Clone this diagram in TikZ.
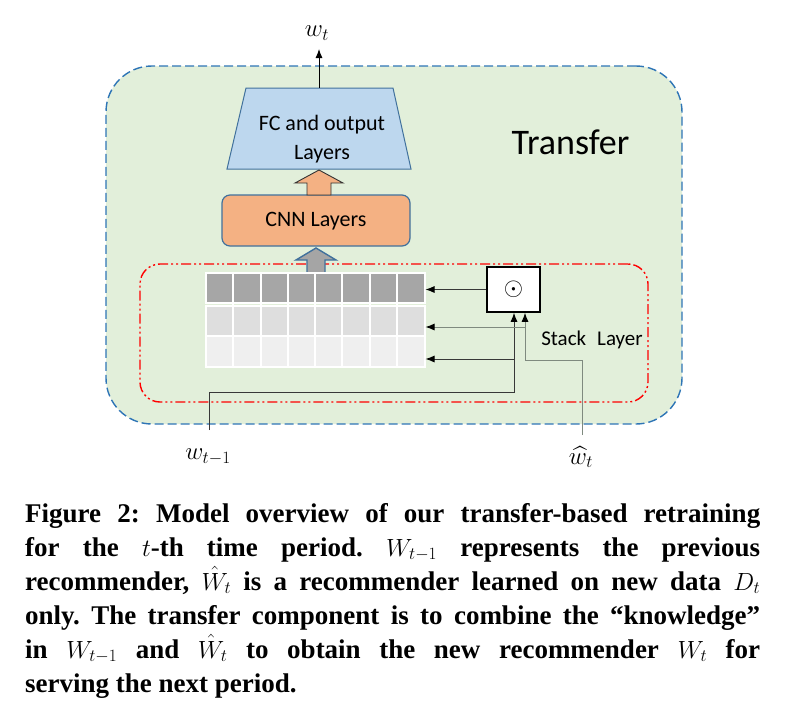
\documentclass[tikz,border=0pt]{standalone}
\usepackage{amsmath}
\usepackage{fontspec}
\usetikzlibrary{arrows.meta}
\setsansfont{Carlito}
\newfontfamily\capfont{Liberation Serif}

\definecolor{transfergreen}{HTML}{E2EFDA}
\definecolor{transferblue}{HTML}{2E75B6}
\definecolor{stackred}{HTML}{FF0000}
\definecolor{fcblue}{HTML}{BDD7EE}
\definecolor{edgeblue}{HTML}{41719C}
\definecolor{cnnorange}{HTML}{F4B183}
\definecolor{arrowgray}{HTML}{A5A5A5}
\definecolor{rowdark}{HTML}{A6A6A6}
\definecolor{rowmid}{HTML}{DEDEDE}
\definecolor{rowlight}{HTML}{EFEFEF}
\definecolor{hatline}{HTML}{7F8A7F}

\tikzset{
  transferbox/.style={draw=transferblue, fill=transfergreen, line width=1.4pt,
    dash pattern=on 9pt off 4pt, rounded corners=46pt, inner sep=0pt},
  stackbox/.style={draw=stackred, line width=1.4pt,
    dash pattern=on 10pt off 3pt on 2pt off 3pt on 2pt off 3pt,
    rounded corners=20pt, inner sep=0pt},
  fcshape/.style={draw=edgeblue, fill=fcblue, line width=1pt},
  cnnbox/.style={draw=edgeblue, fill=cnnorange, line width=1.2pt,
    rounded corners=8pt, minimum width=188pt, minimum height=51pt},
  gridrow/.style={draw=white, line width=2pt, minimum width=219pt, inner sep=0pt},
  odotbox/.style={draw=black, fill=white, line width=1.6pt, minimum width=53pt,
    minimum height=45pt, inner sep=0pt},
  boxtext/.style={font=\sffamily\fontsize{22}{29}\selectfont, align=center},
  mathlabel/.style={font=\fontsize{26}{26}\selectfont, inner sep=0pt},
  link/.style={draw=black!78, line width=0.9pt, -{Latex[length=9pt,width=7pt,color=black]}},
  hatlink/.style={link, draw=hatline}
}

\begin{document}
\begin{tikzpicture}[x=1pt,y=-1pt]
\useasboundingbox (0,0) rectangle (791,720);

% containers
\node[transferbox, minimum width=576pt, minimum height=358pt] (transfer) at (394,245) {};
\node[stackbox, minimum width=508pt, minimum height=138pt] (stacklayer) at (394,333) {};
\node[font=\sffamily\fontsize{36}{36}\selectfont, anchor=base] (transfertext) at (570.5,154) {Transfer};
\node[font=\sffamily\fontsize{21}{21}\selectfont, anchor=base] (stacktext) at (592,345) {Stack\hspace{0.3em} Layer};

% network blocks
\draw[fcshape] (227,169) -- (246,88) -- (393,88) -- (411,169) -- cycle;
\coordinate (fctop) at (319,88);
\node[boxtext] (fc) at (322,139) {FC and output\\Layers};
\node[cnnbox] (cnn) at (316,220.5) {};
\node[boxtext] (cnntext) at (316,221) {CNN Layers};

% block arrows
\draw[fill=cnnorange, draw=black!80, line width=0.9pt]
  (307,195) -- (307,183) -- (295,183) -- (319,170) -- (343,183) -- (331,183) -- (331,195) -- cycle;
\draw[fill=arrowgray, draw=edgeblue, line width=1.4pt]
  (307,273) -- (307,260) -- (296,260) -- (316,248) -- (336,260) -- (325,260) -- (325,273) -- cycle;

% stacked rows
\node[gridrow, fill=rowdark, minimum height=30pt] (row1) at (315,288) {};
\node[gridrow, fill=rowmid, minimum height=30pt] (row2) at (315,320.5) {};
\node[gridrow, fill=rowlight, minimum height=31pt] (row3) at (315,351.5) {};
\foreach \i in {1,...,7}
  \draw[white, line width=2pt] ({206+\i*27.25},273) -- ({206+\i*27.25},368);

\node[odotbox] (stack) at (513.5,289.5) {\fontsize{32}{32}\selectfont$\odot$};

% inputs and output
\node[mathlabel] (wt) at (317,33) {$w_t$};
\node[mathlabel] (wprev) at (208,457) {$w_{t-1}$};
\node[mathlabel] (what) at (581,457) {$\widehat{w}_t$};
\coordinate (wtin) at (319,49);
\coordinate (prevfoot) at (209,430);
\coordinate (prevbend) at (514,392);
\coordinate (prevtap) at (514,359);
\coordinate (hatfoot) at (582,435);
\coordinate (hatbend) at (525,360);
\coordinate (hattap) at (525,327);

\draw[link, draw=black] (fctop) -- (wtin);
\draw[link] (stack.west) -- (stack.west -| row1.east);
\draw[link] (prevfoot) |- (prevbend) -- (prevbend |- stack.south);
\draw[link] (prevtap) -- (prevtap -| row3.east);
\draw[hatlink] (hatfoot) |- (hatbend) -- (hatbend |- stack.south);
\draw[hatlink] (hattap) -- (hattap -| row2.east);

% caption
\node[anchor=north west, inner sep=0pt, text width=735pt, align=justify,
  font=\capfont\bfseries\fontsize{27}{34}\selectfont] (caption) at (25,503)
{\frenchspacing\tolerance=10000 Figure 2: Model overview of our transfer-based retraining\linebreak
for the $t$-th time period. $W_{t-1}$ represents the previous\linebreak
recommender, $\hat{W}_t$ is a recommender learned on new data $D_t$\linebreak
only. The transfer component is to combine the “knowledge”\linebreak
in $W_{t-1}$ and $\hat{W}_t$ to obtain the new recommender $W_t$ for\linebreak
serving the next period.};
\end{tikzpicture}
\end{document}
